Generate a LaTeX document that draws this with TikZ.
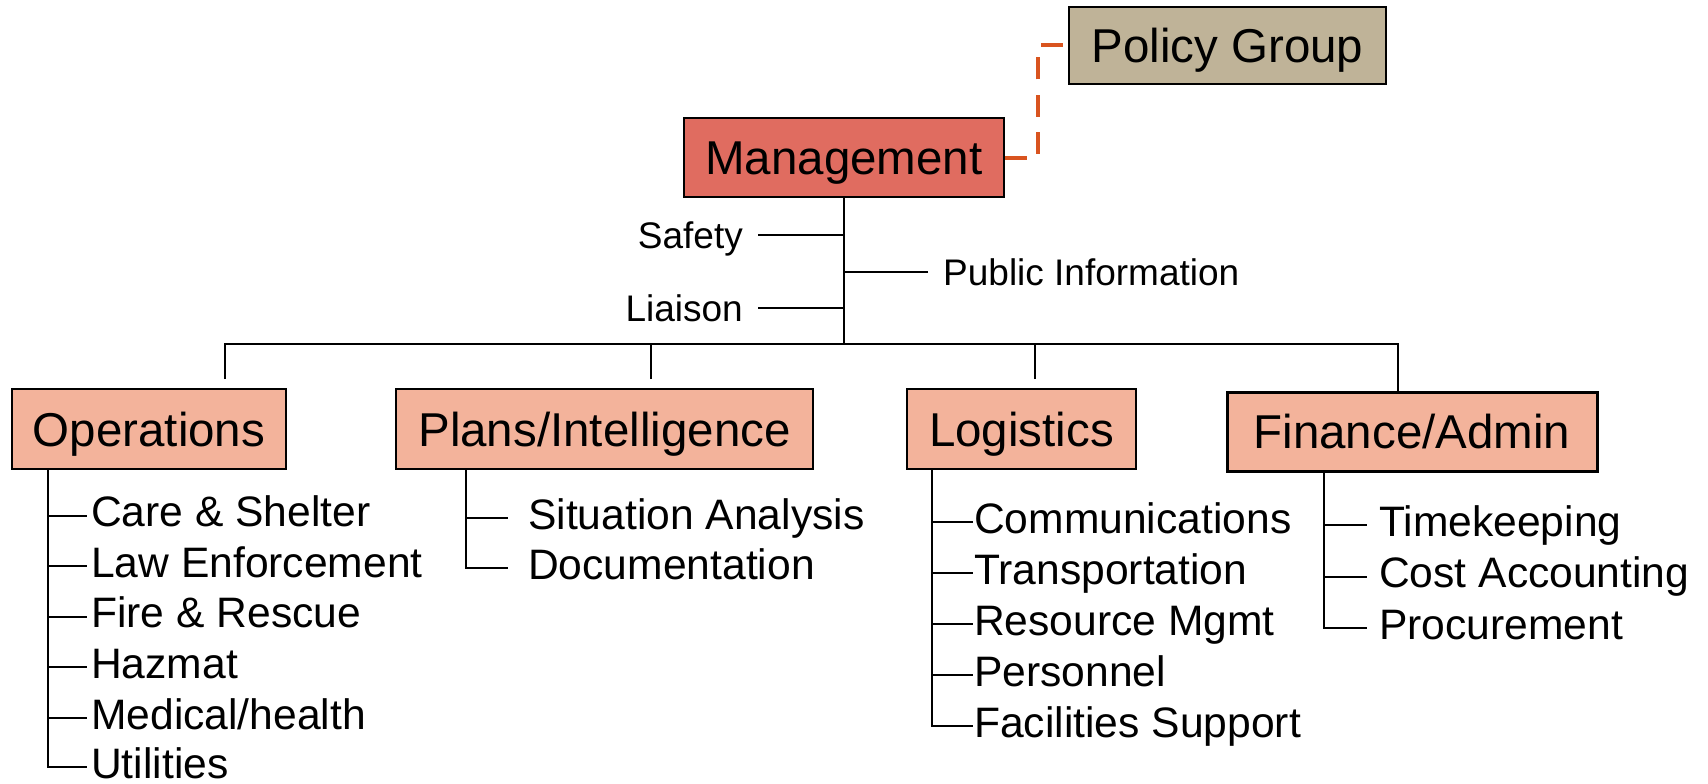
\documentclass[tikz,border=0pt]{standalone}
\usepackage{fontspec}
\setmainfont{Liberation Sans}
\definecolor{mgmtfill}{RGB}{224,108,96}
\definecolor{divfill}{RGB}{243,179,155}
\definecolor{policyfill}{RGB}{191,179,152}
\definecolor{linkcol}{RGB}{217,84,31}
\definecolor{linkshadow}{RGB}{200,200,200}
\begin{document}
\begin{tikzpicture}[x=1pt,y=-1pt,
  conn/.style={line width=2pt, draw=black},
  hdr/.style={draw=black, line width=2pt, inner sep=0pt,
    font=\fontsize{47.5}{57}\selectfont, text height=34pt, text depth=0pt},
  division/.style={hdr, fill=divfill},
  sub/.style={inner ysep=0pt, anchor=west,
    font=\fontsize{42.6}{51}\selectfont, text height=22pt, text depth=0pt},
  staff/.style={inner ysep=0pt,
    font=\fontsize{37}{44}\selectfont, text height=26.5pt, text depth=0pt},
  link/.style={line width=4pt, dash pattern=on 22pt off 15pt}
]
\useasboundingbox (0,0) rectangle (1708,784);

% top boxes
\node[hdr, fill=policyfill, minimum width=317pt, minimum height=77pt] (policy) at (1227.5,45.5) {Policy Group};
\node[hdr, fill=mgmtfill, minimum width=320pt, minimum height=79pt] (mgmt) at (844,157.5) {Management};

% dashed link to the policy group, with its soft shadow
\coordinate (elbow) at (1038,100);
\draw[link, draw=linkshadow, xshift=1pt, yshift=-3pt] (mgmt.east) -| (elbow) |- (policy.west);
\draw[link, draw=linkcol] (mgmt.east) -| (elbow) |- (policy.west);

% command staff
\node[staff, anchor=east, inner xsep=15pt] (safety) at (758,235) {Safety};
\node[staff, anchor=east, inner xsep=15pt] (liaison) at (758,308) {Liaison};
\node[staff, anchor=west, inner xsep=15pt] (public) at (928,272) {Public Information};

% sections
\node[division, minimum width=274pt, minimum height=80pt] (ops) at (149,429) {Operations};
\node[division, minimum width=417pt, minimum height=80pt] (plans) at (604.5,429) {Plans/Intelligence};
\node[division, minimum width=229pt, minimum height=80pt] (logi) at (1021.5,429) {Logistics};
\node[division, line width=3pt, minimum width=370pt, minimum height=79pt] (fin) at (1412,431.5) {Finance/Admin};

% main trunk and bus
\coordinate (bus) at (844,344);
\coordinate (dOps) at (225,379);
\coordinate (dPlans) at (651,379);
\coordinate (dLogi) at (1035,379);
\coordinate (dFin) at (1398,392);
\draw[conn] (mgmt.south) -- (bus);
\draw[conn] (dOps) |- (bus) -| (dFin);
\draw[conn] (dPlans) -- (dPlans |- bus);
\draw[conn] (dLogi) -- (dLogi |- bus);

\draw[conn] (safety.east) -- (safety.east -| mgmt.south);
\draw[conn] (liaison.east) -- (liaison.east -| mgmt.south);
\draw[conn] (public.west) -- (public.west -| mgmt.south);

% operations branches
\coordinate (opsTrunk) at (48,0);
\node[sub, inner xsep=4pt] (o1) at (87,515.6) {Care \& Shelter};
\node[sub, inner xsep=4pt] (o2) at (87,566.2) {Law Enforcement};
\node[sub, inner xsep=4pt] (o3) at (87,616.8) {Fire \& Rescue};
\node[sub, inner xsep=4pt] (o4) at (87,667.4) {Hazmat};
\node[sub, inner xsep=4pt] (o5) at (87,718) {Medical/health};
\node[sub, inner xsep=4pt] (o6) at (87,767) {Utilities};
\draw[conn] (ops.south -| opsTrunk) |- (o6.west);
\foreach \n in {o1,o2,o3,o4,o5} \draw[conn] (\n.west -| opsTrunk) -- (\n.west);

% plans branches
\coordinate (plansTrunk) at (466,0);
\node[sub, inner xsep=20pt] (p1) at (508,518) {Situation Analysis};
\node[sub, inner xsep=20pt] (p2) at (508,568) {Documentation};
\draw[conn] (plans.south -| plansTrunk) |- (p2.west);
\draw[conn] (p1.west -| plansTrunk) -- (p1.west);

% logistics branches
\coordinate (logiTrunk) at (932,0);
\node[sub, inner xsep=1pt] (l1) at (973,522) {Communications};
\node[sub, inner xsep=1pt] (l2) at (973,573) {Transportation};
\node[sub, inner xsep=1pt] (l3) at (973,624) {Resource Mgmt};
\node[sub, inner xsep=1pt] (l4) at (973,675) {Personnel};
\node[sub, inner xsep=1pt] (l5) at (973,726) {Facilities Support};
\draw[conn] (logi.south -| logiTrunk) |- (l5.west);
\foreach \n in {l1,l2,l3,l4} \draw[conn] (\n.west -| logiTrunk) -- (\n.west);

% finance branches
\coordinate (finTrunk) at (1324,0);
\node[sub, inner xsep=12pt] (f1) at (1367,525) {Timekeeping};
\node[sub, inner xsep=12pt] (f2) at (1367,576.5) {Cost Accounting};
\node[sub, inner xsep=12pt] (f3) at (1367,628) {Procurement};
\draw[conn] (fin.south -| finTrunk) |- (f3.west);
\foreach \n in {f1,f2} \draw[conn] (\n.west -| finTrunk) -- (\n.west);
\end{tikzpicture}
\end{document}
